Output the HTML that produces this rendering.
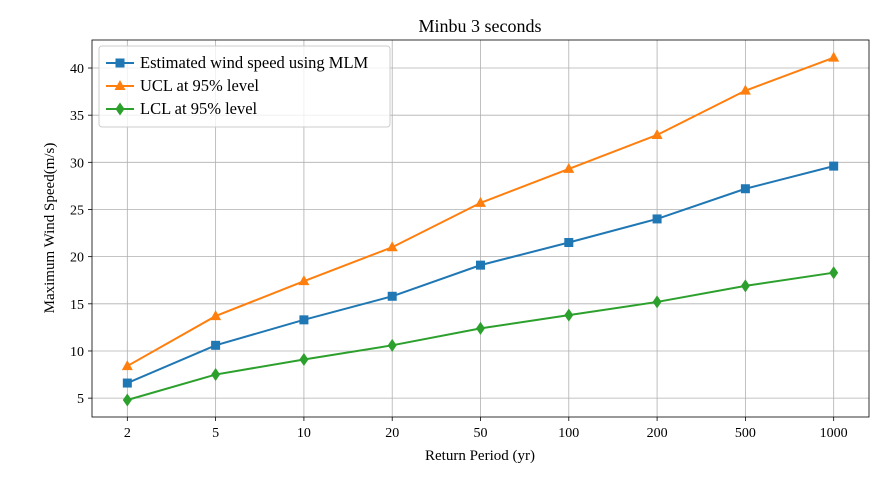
<!DOCTYPE html>
<html><head><meta charset="utf-8"><style>
body{margin:0;background:#fff;}
svg{display:block;font-family:"Liberation Serif",serif;}
</style></head><body>
<svg id="chart" width="894" height="480"></svg>
<script>
const categories=["2","5","10","20","50","100","200","500","1000"];
const mlmValues=[6.6,10.6,13.3,15.8,19.1,21.5,24.0,27.2,29.6];
const uclValues=[8.4,13.7,17.4,21.0,25.7,29.3,32.9,37.6,41.1];
const lclValues=[4.8,7.5,9.1,10.6,12.4,13.8,15.2,16.9,18.3];
const yTicks=[5,10,15,20,25,30,35,40];

const NS="http://www.w3.org/2000/svg";
const svg=document.getElementById('chart');
const L=92,R=869,T=40,B=417;
const xMin=-0.4,xMax=categories.length-1+0.4,yMin=3,yMax=42.97;
const xs=i=>L+(i-xMin)/(xMax-xMin)*(R-L);
const ys=v=>B-(v-yMin)/(yMax-yMin)*(B-T);
function el(tag,attrs,parent){const e=document.createElementNS(NS,tag);for(const k in attrs)e.setAttribute(k,attrs[k]);(parent||svg).appendChild(e);return e;}

const grid=el('g',{});


categories.forEach((c,i)=>{
  const x=xs(i);
  el('line',{x1:x,x2:x,y1:T,y2:B,stroke:'#b0b0b0','stroke-width':0.8},grid);
  el('line',{x1:x,x2:x,y1:B,y2:B+4,stroke:'#000','stroke-width':0.8},grid);
  const t=el('text',{x:x,y:B+20,'text-anchor':'middle','font-size':14});
  t.textContent=c;
  
  
});
yTicks.forEach(v=>{
  const y=ys(v);
  el('line',{x1:L,x2:R,y1:y,y2:y,stroke:'#b0b0b0','stroke-width':0.8},grid);
  el('line',{x1:L-4,x2:L,y1:y,y2:y,stroke:'#000','stroke-width':0.8},grid);
  const t=el('text',{x:L-8,y:y+5,'text-anchor':'end','font-size':14});
  t.textContent=v;
  
  
});
const frame=el('rect',{x:L,y:T,width:R-L,height:B-T,fill:'none',stroke:'#000','stroke-width':0.8});



function marker(type,x,y,color,g){
  if(type==='s')return el('rect',{x:x-4.5,y:y-4.5,width:9,height:9,fill:color},g);
  if(type==='^')return el('polygon',{points:`${x},${y-6} ${x-5.5},${y+4} ${x+5.5},${y+4}`,fill:color},g);
  return el('polygon',{points:`${x},${y-6.5} ${x-4.5},${y} ${x},${y+6.5} ${x+4.5},${y}`,fill:color},g);
}
const series=[
  {name:'mlm',vals:mlmValues,color:'#1f77b4',m:'s'},
  {name:'ucl',vals:uclValues,color:'#ff7f0e',m:'^'},
  {name:'lcl',vals:lclValues,color:'#2ca02c',m:'d'}
];
series.forEach(s=>{
  const g=el('g',{});
  
  
  el('polyline',{points:s.vals.map((v,i)=>xs(i)+','+ys(v)).join(' '),fill:'none',stroke:s.color,'stroke-width':2},g);
  s.vals.forEach((v,i)=>{
    const m=marker(s.m,xs(i),ys(v),s.color,g);
    
    
  });
});
</script>
<svg width="894" height="480" style="position:absolute;left:0;top:0;font-family:'Liberation Serif',serif">
<text x="480" y="32" text-anchor="middle" font-size="18">Minbu 3 seconds</text>
<text x="480" y="460" text-anchor="middle" font-size="15">Return Period (yr)</text>
<text transform="translate(54,228) rotate(-90)" text-anchor="middle" font-size="15">Maximum Wind Speed(m/s)</text>
<g>
<rect x="99" y="46" width="291" height="81" rx="3" fill="#fff" fill-opacity="0.8" stroke="#ccc"/>
<g><line x1="106" x2="134" y1="63" y2="63" stroke="#1f77b4" stroke-width="2"/><rect x="115.5" y="58.5" width="9" height="9" fill="#1f77b4"/><text x="140" y="68" font-size="16.5">Estimated wind speed using MLM</text></g>
<g><line x1="106" x2="134" y1="86" y2="86" stroke="#ff7f0e" stroke-width="2"/><polygon points="120,80 114.5,90 125.5,90" fill="#ff7f0e"/><text x="140" y="91" font-size="16.5">UCL at 95% level</text></g>
<g><line x1="106" x2="134" y1="109" y2="109" stroke="#2ca02c" stroke-width="2"/><polygon points="120,102.5 115.5,109 120,115.5 124.5,109" fill="#2ca02c"/><text x="140" y="114" font-size="16.5">LCL at 95% level</text></g>
</g>
</svg>
</body></html>
